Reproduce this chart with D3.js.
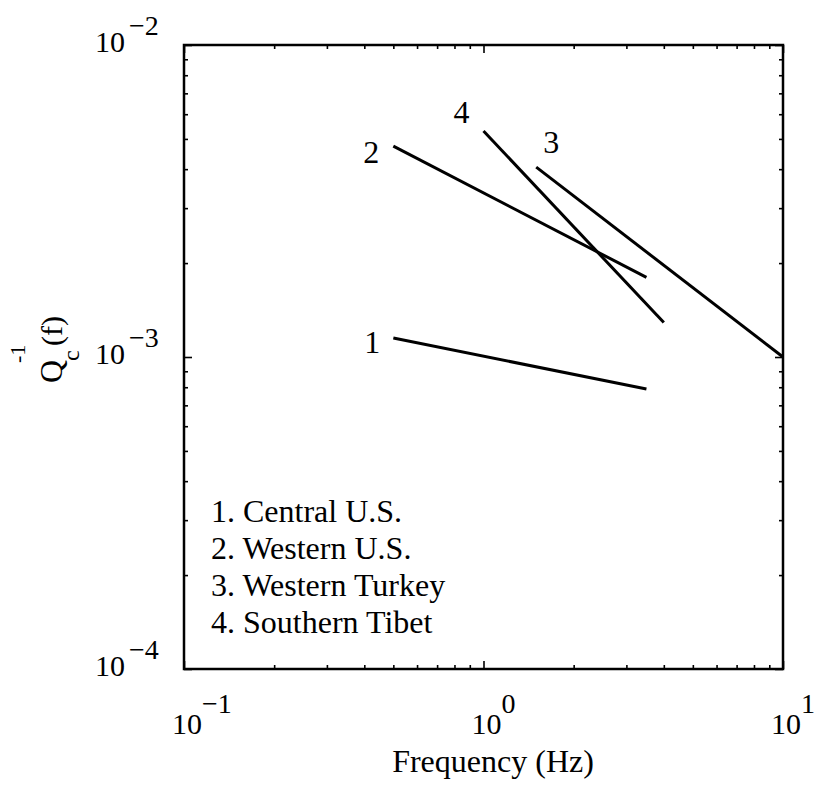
<!DOCTYPE html>
<html><head><meta charset="utf-8">
<script src="https://cdn.jsdelivr.net/npm/d3@7"></script>
<style>
html,body{margin:0;padding:0;background:#fff;}
svg{display:block;}
text{font-family:"Liberation Serif","Times New Roman",serif;fill:#000;}
</style></head>
<body>
<svg id="c" width="817" height="794"></svg>
<script>
// ---- data ----
const seriesIds = ["1", "2", "3", "4"];
const seriesNames = ["Central U.S.", "Western U.S.", "Western Turkey", "Southern Tibet"];
const freqStart = [0.5, 0.5, 1.5, 1.0];
const freqEnd = [3.5, 3.5, 10, 4.0];
const qStart = [1.15e-3, 4.74e-3, 4.06e-3, 5.3e-3];
const qEnd = [7.9e-4, 1.80e-3, 1.0e-3, 1.29e-3];
const xMajorTicks = [0.1, 1, 10];
const xMajorExp = ["\u22121", "0", "1"];
const yMajorTicks = [1e-4, 1e-3, 1e-2];
const yMajorExp = ["\u22124", "\u22123", "\u22122"];

// ---- layout ----
const L = 184, R = 783, T = 45, B = 669;
const svg = d3.select("#c");
const x = d3.scaleLog().domain([0.1, 10]).range([L, R]);
const y = d3.scaleLog().domain([1e-4, 1e-2]).range([B, T]);

const minorX = [];
[0.1, 1].forEach(d => { for (let k = 2; k <= 9; k++) minorX.push(d * k); });
const minorY = [];
[1e-4, 1e-3].forEach(d => { for (let k = 2; k <= 9; k++) minorY.push(d * k); });

function styleAxis(g) {
  g.select(".domain").remove();
  g.selectAll("line").attr("stroke", "#000").attr("stroke-width", 1.6);
  g.selectAll("text").remove();
}
// bottom / top
svg.append("g").attr("transform", `translate(0,${B})`).call(d3.axisBottom(x).tickValues(minorX).tickSize(-4)).call(styleAxis);
svg.append("g").attr("transform", `translate(0,${B})`).call(d3.axisBottom(x).tickValues(xMajorTicks).tickSize(-8)).call(styleAxis);
svg.append("g").attr("transform", `translate(0,${T})`).call(d3.axisTop(x).tickValues(minorX).tickSize(-4)).call(styleAxis);
svg.append("g").attr("transform", `translate(0,${T})`).call(d3.axisTop(x).tickValues(xMajorTicks).tickSize(-8)).call(styleAxis);
// left / right
svg.append("g").attr("transform", `translate(${L},0)`).call(d3.axisLeft(y).tickValues(minorY).tickSize(-4)).call(styleAxis);
svg.append("g").attr("transform", `translate(${L},0)`).call(d3.axisLeft(y).tickValues(yMajorTicks).tickSize(-8)).call(styleAxis);
svg.append("g").attr("transform", `translate(${R},0)`).call(d3.axisRight(y).tickValues(minorY).tickSize(-4)).call(styleAxis);
svg.append("g").attr("transform", `translate(${R},0)`).call(d3.axisRight(y).tickValues(yMajorTicks).tickSize(-8)).call(styleAxis);

// frame
svg.append("rect").attr("x", L).attr("y", T).attr("width", R - L).attr("height", B - T)
  .attr("fill", "none").attr("stroke", "#000").attr("stroke-width", 2.5);

// x tick labels
xMajorTicks.forEach((v, i) => {
  const t = svg.append("text").attr("x", x(v) - 12).attr("y", B + 65).attr("font-size", 30);
  t.append("tspan").text("10");
  t.append("tspan").attr("dy", -21).attr("font-size", 28).text(xMajorExp[i]);
});
// y tick labels
yMajorTicks.forEach((v, i) => {
  const t = svg.append("text").attr("x", 95).attr("y", y(v) + 7).attr("font-size", 30);
  t.append("tspan").text("10");
  t.append("tspan").attr("dx", 4).attr("dy", -17).attr("font-size", 28).text(yMajorExp[i]);
});

// lines
const line = d3.line().x(d => x(d[0])).y(d => y(d[1]));
seriesIds.forEach((id, i) => {
  svg.append("path")
    .attr("d", line([[freqStart[i], qStart[i]], [freqEnd[i], qEnd[i]]]))
    .attr("fill", "none").attr("stroke", "#000").attr("stroke-width", 3);
});
// curve labels (offsets from line start)
const labelOffset = [[-21, 15], [-22, 17], [15, -14], [-22, -8]];
seriesIds.forEach((id, i) => {
  svg.append("text").attr("x", x(freqStart[i]) + labelOffset[i][0]).attr("y", y(qStart[i]) + labelOffset[i][1])
    .attr("text-anchor", "middle").attr("font-size", 32).text(id);
});

// legend text
seriesIds.forEach((id, i) => {
  svg.append("text").attr("x", 211).attr("y", 522 + i * 37).attr("font-size", 32)
    .text(id + ". " + seriesNames[i]);
});

// axis titles
svg.append("text").attr("x", 493).attr("y", 772).attr("text-anchor", "middle").attr("font-size", 32).text("Frequency (Hz)");
const yl = svg.append("g").attr("transform", "translate(62,350) rotate(-90)");
yl.append("text").attr("x", -33).attr("y", 0).attr("font-size", 32).text("Q");
yl.append("text").attr("x", -11).attr("y", 17).attr("font-size", 24).text("c");
yl.append("text").attr("x", -13).attr("y", -37).attr("font-size", 22).text("-1");
yl.append("text").attr("x", 4).attr("y", 0).attr("font-size", 30).text("(f)");
</script>
</body></html>
